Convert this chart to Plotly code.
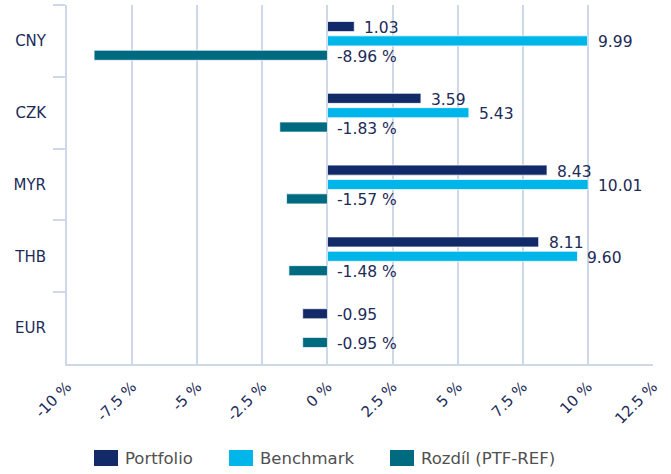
import plotly.graph_objects as go

# Currency contributions (%)
currencies = ["CNY", "CZK", "MYR", "THB", "EUR"]
portfolio = [1.03, 3.59, 8.43, 8.11, -0.95]
benchmark = [9.99, 5.43, 10.01, 9.60, None]
difference = [-8.96, -1.83, -1.57, -1.48, -0.95]

x_tick_values = [-10, -7.5, -5, -2.5, 0, 2.5, 5, 7.5, 10, 12.5]
x_tick_labels = ["-10 %", "-7.5 %", "-5 %", "-2.5 %", "0 %", "2.5 %", "5 %", "7.5 %", "10 %", "12.5 %"]

series_names = ["Portfolio", "Benchmark", "Rozdíl (PTF-REF)"]
series_values = [portfolio, benchmark, difference]
series_colors = ["#122b68", "#00b5ea", "#006b80"]
label_formats = ["{:.2f}", "{:.2f}", "{:.2f} %"]

FONT = "DejaVu Sans"
TEXT_COLOR = "#1c2b57"
LINE_COLOR = "#cdd8e8"

W, H = 671, 474
M = dict(l=67, r=18, t=5, b=110)
plot_w = W - M["l"] - M["r"]
plot_h = H - M["t"] - M["b"]


def paper_x(px):
    return (px - M["l"]) / plot_w


def paper_y(py):
    return (H - M["b"] - py) / plot_h


fig = go.Figure()
annotations = []
shapes = []
slot_px = 14.4  # vertical distance between bars of one group

for k, (name, values, color, fmt) in enumerate(
        zip(series_names, series_values, series_colors, label_formats)):
    fig.add_trace(go.Bar(
        name=name, y=currencies, x=values, orientation="h",
        marker=dict(color=color, line=dict(color="rgba(255,255,255,0.7)", width=1)),
        hoverinfo="x+name", showlegend=False,
    ))
    # value labels sit just right of the bar end (or of zero for negatives)
    for cat, v in zip(currencies, values):
        if v is None:
            continue
        annotations.append(dict(
            x=max(v, 0), y=cat, xref="x", yref="y",
            text=fmt.format(v), showarrow=False,
            xanchor="left", yanchor="middle", xshift=8,
            yshift=(1 - k) * slot_px - 1.5,
            font=dict(family=FONT, size=15.5, color=TEXT_COLOR),
        ))

# legend row below the chart: colour key + series name
legend_keys = [94, 229, 390]  # left edge of each key, px
for name, color, kx in zip(series_names, series_colors, legend_keys):
    shapes.append(dict(
        type="rect", xref="paper", yref="paper",
        x0=paper_x(kx), x1=paper_x(kx + 24), y0=paper_y(466), y1=paper_y(450),
        fillcolor=color, line=dict(width=0), layer="above",
    ))
    annotations.append(dict(
        x=paper_x(kx + 29), y=paper_y(458), xref="paper", yref="paper",
        text=name, showarrow=False, xanchor="left", yanchor="middle",
        font=dict(family=FONT, size=16.5, color="#505050"),
    ))

fig.update_layout(
    width=W, height=H,
    margin=M,
    paper_bgcolor="white", plot_bgcolor="white",
    barmode="group", bargap=0.4, bargroupgap=0.3,
    annotations=annotations, shapes=shapes,
    font=dict(family=FONT, color=TEXT_COLOR),
    showlegend=False,
    xaxis=dict(
        range=[-10, 12.5], tickvals=x_tick_values, ticktext=x_tick_labels,
        tickangle=-45, showgrid=True, gridcolor=LINE_COLOR, gridwidth=1.5,
        zeroline=False, showline=True, linecolor=LINE_COLOR, linewidth=2,
        ticks="", ticklabelstandoff=6, automargin=False,
        tickfont=dict(family=FONT, size=15, color=TEXT_COLOR),
    ),
    yaxis=dict(
        type="category", categoryorder="array", categoryarray=currencies,
        autorange="reversed", showgrid=False, showline=True,
        linecolor=LINE_COLOR, linewidth=2,
        ticks="outside", tickson="boundaries", ticklen=12, tickwidth=2,
        tickcolor=LINE_COLOR, ticklabelstandoff=16, automargin=False,
        tickfont=dict(family=FONT, size=15, color=TEXT_COLOR),
    ),
)

fig.write_html("out.html")
